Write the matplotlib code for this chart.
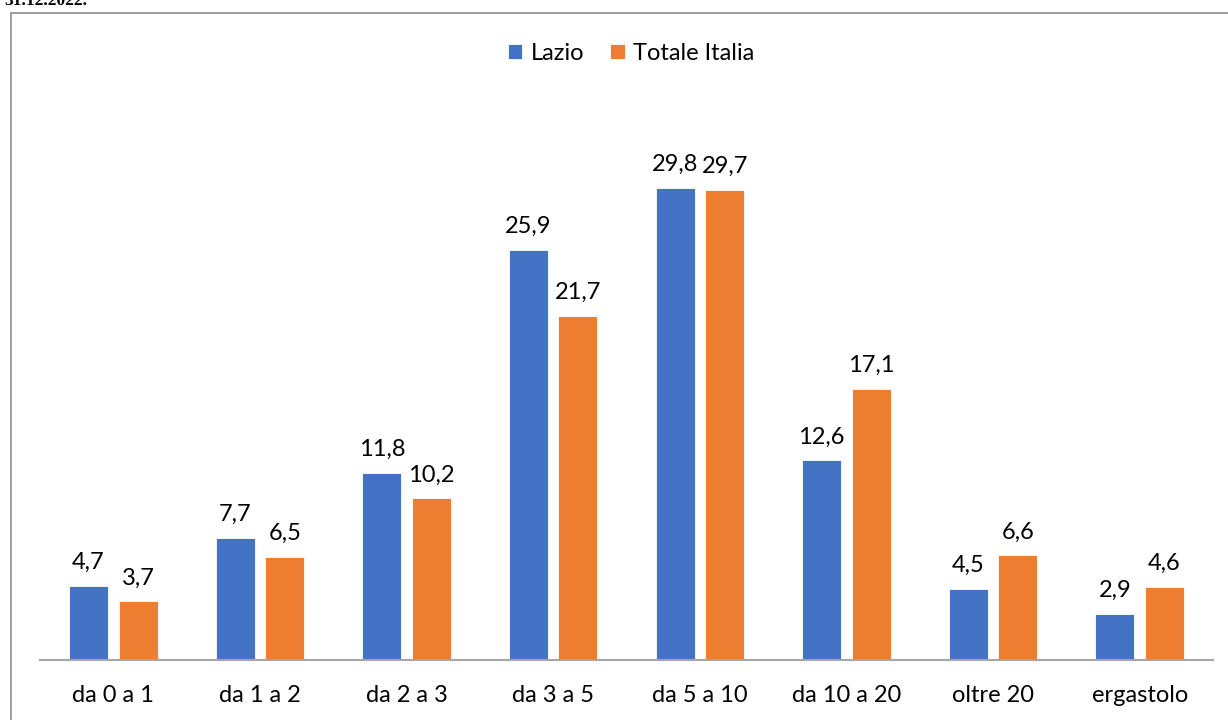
import matplotlib.pyplot as plt
from matplotlib.patches import Rectangle
import numpy as np

categories = ['da 0 a 1', 'da 1 a 2', 'da 2 a 3', 'da 3 a 5',
              'da 5 a 10', 'da 10 a 20', 'oltre 20', 'ergastolo']
lazio = [4.7, 7.7, 11.8, 25.9, 29.8, 12.6, 4.5, 2.9]
italia = [3.7, 6.5, 10.2, 21.7, 29.7, 17.1, 6.6, 4.6]
series_names = ['Lazio', 'Totale Italia']
date_text = '31.12.2022.'

BLUE = '#4472C4'
ORANGE = '#ED7D31'
W, H = 1228, 720
FS = 17

plt.rcParams['font.family'] = ['Lato', 'DejaVu Sans']

fig = plt.figure(figsize=(W / 100, H / 100), dpi=100)
ax = fig.add_axes([40 / W, 60 / H, 1173 / W, (660 - 105.6) / H])

x = np.arange(len(categories))
bw, off = 0.266, 0.169
b1 = ax.bar(x - off, lazio, bw, color=BLUE, label=series_names[0],
            edgecolor='white', linewidth=0.6)
b2 = ax.bar(x + off, italia, bw, color=ORANGE, label=series_names[1],
            edgecolor='white', linewidth=0.6)

for bars, vals in ((b1, lazio), (b2, italia)):
    for b, v in zip(bars, vals):
        ax.annotate(f'{v:.1f}'.replace('.', ','),
                    (b.get_x() + b.get_width() / 2, v),
                    xytext=(0, 12.2), textcoords='offset points',
                    ha='center', va='baseline', fontsize=FS, color='#000000')

ax.set_xlim(-0.5, len(categories) - 0.5)
ax.set_ylim(0, 35)
ax.set_xticks(x)
ax.set_xticklabels(categories, fontsize=FS)
ax.tick_params(axis='x', length=0, pad=18)
ax.set_yticks([])
for s in ('top', 'right', 'left'):
    ax.spines[s].set_visible(False)
ax.spines['bottom'].set_color('#a6a6a6')
ax.spines['bottom'].set_linewidth(1.5)

fig.legend(loc='center', bbox_to_anchor=(631 / W, 1 - 53 / H), ncol=2,
           frameon=False, fontsize=FS, handlelength=0.62, handleheight=0.62,
           handletextpad=0.35, columnspacing=1.1)

# outer chart frame, running off the right and bottom edges
fig.add_artist(Rectangle((10.5 / W, -0.1), 1.2, 1 + 0.1 - 12.5 / H,
                         transform=fig.transFigure, fill=False,
                         edgecolor='#8c8c8c', linewidth=1.2, clip_on=False))
fig.text(4 / W, 1 - 5 / H, date_text, family='Liberation Serif',
         fontsize=12.5, fontweight='bold', va='baseline', ha='left')

fig.savefig('out.png', dpi=100)
